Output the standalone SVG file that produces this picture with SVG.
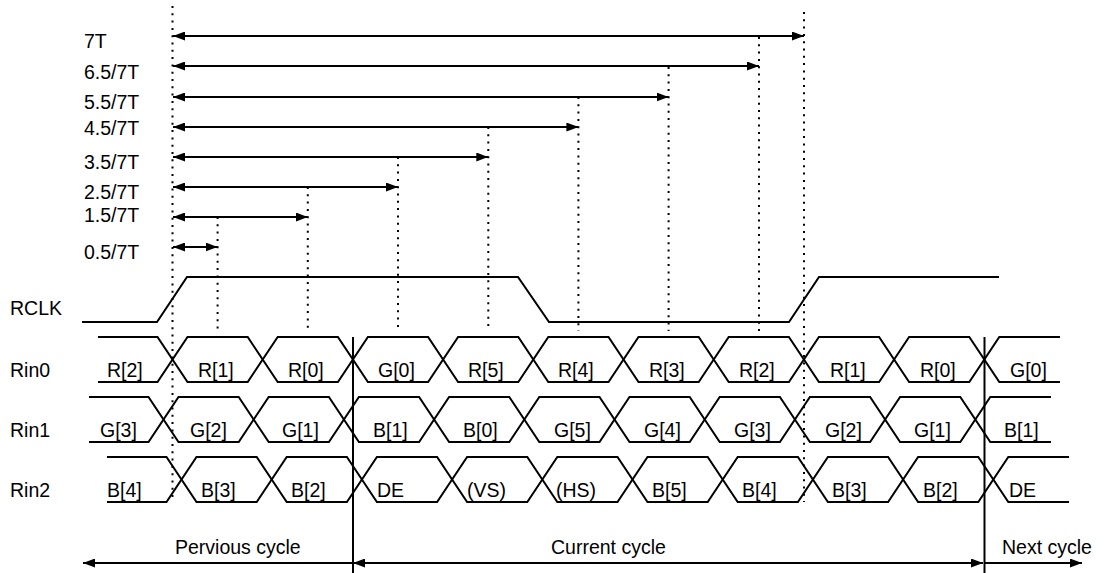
<svg xmlns="http://www.w3.org/2000/svg" width="1106" height="573" viewBox="0 0 1106 573">
<style>
text{font-family:"Liberation Sans",Arial,sans-serif;font-size:19.5px;fill:#000}
.w{fill:none;stroke:#000;stroke-width:2;stroke-linejoin:miter}
.a{fill:none;stroke:#000;stroke-width:1.8}
.d{fill:none;stroke:#000;stroke-width:2;stroke-dasharray:2 5.3}
.v{fill:none;stroke:#000;stroke-width:2}
</style>
<defs>
<marker id="ah" viewBox="0 0 12 9" refX="12" refY="4.5" markerWidth="12" markerHeight="9" markerUnits="userSpaceOnUse" orient="auto-start-reverse">
<path d="M0,0 L12,4.5 L0,9 z" fill="#000"/>
</marker>
<g id="wave">
<polyline points="98,337 157.5,337 187.5,382 247.7,382 277.7,337 337.9,337 367.9,382 428.1,382 458.1,337 518.3,337 548.3,382 608.5,382 638.5,337 698.7,337 728.7,382 788.9,382 818.9,337 879.1,337 909.1,382 969.3,382 999.3,337 1060,337"/>
<polyline points="98,382 157.5,382 187.5,337 247.7,337 277.7,382 337.9,382 367.9,337 428.1,337 458.1,382 518.3,382 548.3,337 608.5,337 638.5,382 698.7,382 728.7,337 788.9,337 818.9,382 879.1,382 909.1,337 969.3,337 999.3,382 1060,382"/>
</g>
</defs>

<g id="guides">
<line class="d" x1="172.5" y1="6" x2="172.5" y2="500"/>
<line class="d" x1="804" y1="12" x2="804" y2="502"/>
<line class="d" x1="759" y1="37" x2="759" y2="331"/>
<line class="d" x1="668.6" y1="67" x2="668.6" y2="331"/>
<line class="d" x1="578.4" y1="97" x2="578.4" y2="331"/>
<line class="d" x1="488.3" y1="127" x2="488.3" y2="331"/>
<line class="d" x1="398" y1="157" x2="398" y2="331"/>
<line class="d" x1="307.8" y1="187" x2="307.8" y2="331"/>
<line class="d" x1="217.6" y1="217" x2="217.6" y2="331"/>
</g>

<g id="timing-labels">
<text x="84" y="48">7T</text>
<text x="84" y="79">6.5/7T</text>
<text x="84" y="109">5.5/7T</text>
<text x="84" y="135">4.5/7T</text>
<text x="84" y="169">3.5/7T</text>
<text x="84" y="199">2.5/7T</text>
<text x="84" y="222">1.5/7T</text>
<text x="84" y="259">0.5/7T</text>
</g>

<g id="connectors">
<line class="a" x1="173" y1="36" x2="804" y2="36" marker-start="url(#ah)" marker-end="url(#ah)"/>
<line class="a" x1="173" y1="66" x2="759" y2="66" marker-start="url(#ah)" marker-end="url(#ah)"/>
<line class="a" x1="173" y1="97" x2="668.6" y2="97" marker-start="url(#ah)" marker-end="url(#ah)"/>
<line class="a" x1="173" y1="127" x2="578.4" y2="127" marker-start="url(#ah)" marker-end="url(#ah)"/>
<line class="a" x1="173" y1="157" x2="488.3" y2="157" marker-start="url(#ah)" marker-end="url(#ah)"/>
<line class="a" x1="173" y1="187" x2="398" y2="187" marker-start="url(#ah)" marker-end="url(#ah)"/>
<line class="a" x1="173" y1="217" x2="307.8" y2="217" marker-start="url(#ah)" marker-end="url(#ah)"/>
<line class="a" x1="173" y1="247" x2="217.6" y2="247" marker-start="url(#ah)" marker-end="url(#ah)"/>
<line class="a" x1="83" y1="563" x2="353" y2="563" marker-start="url(#ah)"/>
<line class="a" x1="353" y1="563" x2="983" y2="563" marker-start="url(#ah)" marker-end="url(#ah)"/>
<line class="a" x1="985" y1="563" x2="1082" y2="563" marker-end="url(#ah)"/>
</g>

<g id="rclk">
<text x="10" y="315">RCLK</text>
<polyline class="w" points="82,322 157,322 187,277 518,277 549,322 789,322 819,277 999,277"/>
</g>

<g id="rin0">
<text x="10" y="377">Rin0</text>
<use href="#wave" class="w"/>
<text x="107" y="377">R[2]</text>
<text x="198" y="377">R[1]</text>
<text x="288" y="377">R[0]</text>
<text x="378" y="377">G[0]</text>
<text x="468" y="377">R[5]</text>
<text x="558" y="377">R[4]</text>
<text x="649" y="377">R[3]</text>
<text x="739" y="377">R[2]</text>
<text x="830" y="377">R[1]</text>
<text x="920" y="377">R[0]</text>
<text x="1010" y="377">G[0]</text>
</g>

<g id="rin1">
<text x="10" y="437">Rin1</text>
<use href="#wave" class="w" transform="translate(-9,60)"/>
<text x="100" y="437">G[3]</text>
<text x="190" y="437">G[2]</text>
<text x="282" y="437">G[1]</text>
<text x="373" y="437">B[1]</text>
<text x="463" y="437">B[0]</text>
<text x="554" y="437">G[5]</text>
<text x="644" y="437">G[4]</text>
<text x="734" y="437">G[3]</text>
<text x="825" y="437">G[2]</text>
<text x="914" y="437">G[1]</text>
<text x="1004" y="437">B[1]</text>
</g>

<g id="rin2">
<text x="10" y="497">Rin2</text>
<use href="#wave" class="w" transform="translate(9,120)"/>
<text x="107" y="497">B[4]</text>
<text x="201" y="497">B[3]</text>
<text x="291" y="497">B[2]</text>
<text x="377" y="497">DE</text>
<text x="467" y="497">(VS)</text>
<text x="556" y="497">(HS)</text>
<text x="652" y="497">B[5]</text>
<text x="742" y="497">B[4]</text>
<text x="832" y="497">B[3]</text>
<text x="923" y="497">B[2]</text>
<text x="1009" y="497">DE</text>
</g>

<g id="cycles">
<line class="v" x1="353" y1="337" x2="353" y2="573"/>
<line class="v" x1="984.5" y1="337" x2="984.5" y2="573"/>
<text x="175" y="554">Pervious cycle</text>
<text x="551" y="554">Current cycle</text>
<text x="1002" y="554">Next cycle</text>
</g>
</svg>
